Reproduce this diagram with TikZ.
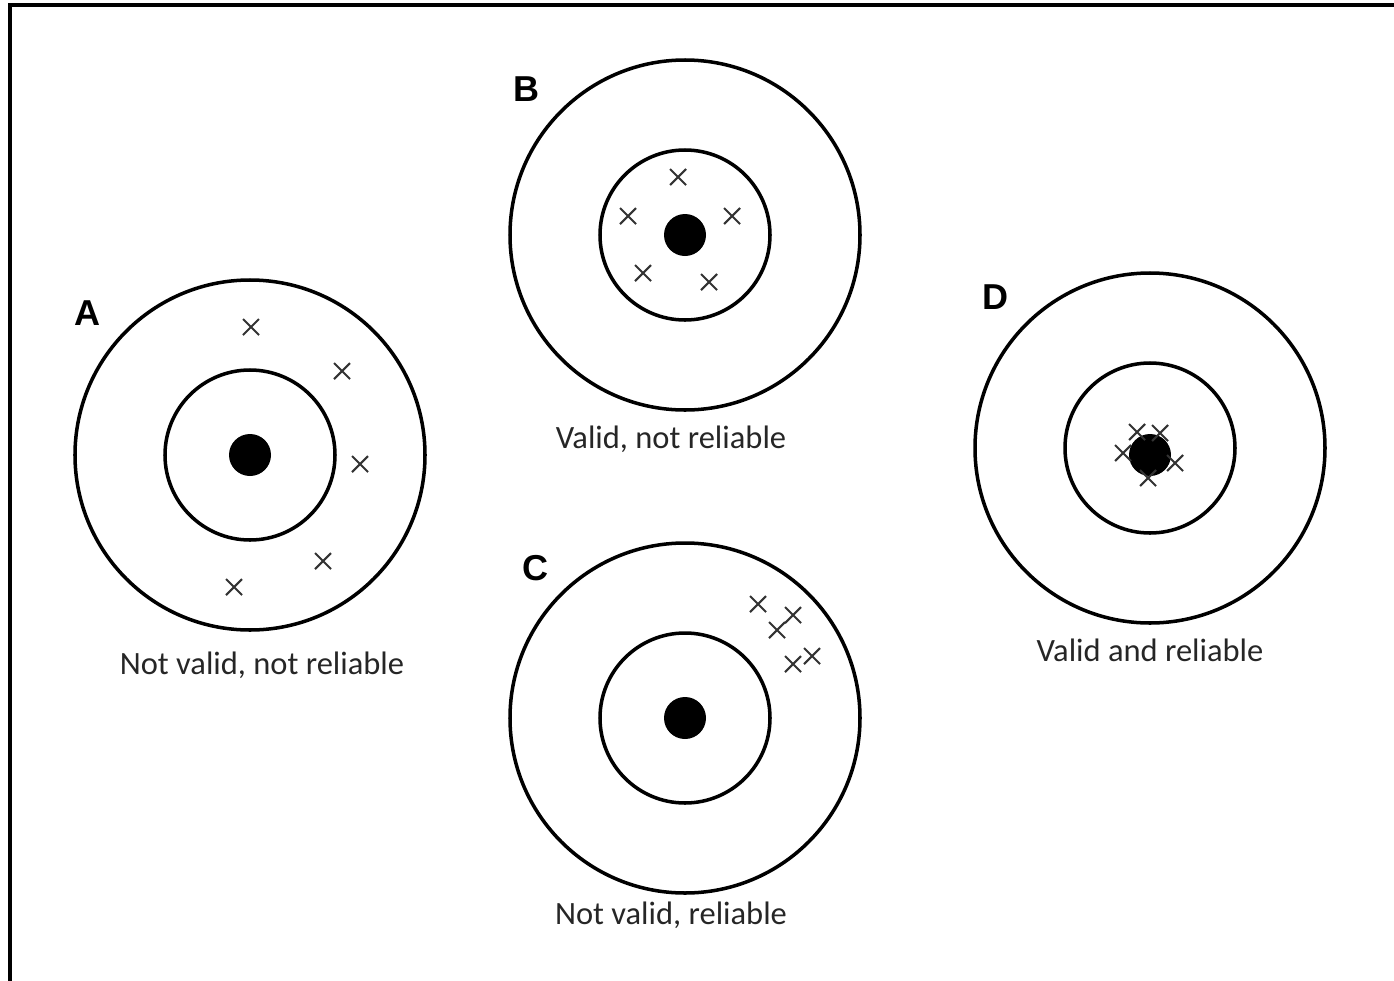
\documentclass[tikz,border=0pt]{standalone}
\usepackage{fontspec}
\setmainfont{Carlito}
\newfontfamily\tagfont{Liberation Sans}
\usepackage{tikz}
\definecolor{markcol}{rgb}{0.2, 0.2, 0.2}
\definecolor{textcol}{rgb}{0.15, 0.15, 0.15}
\tikzstyle{ring}=[line width=2pt, black]
\tikzstyle{hitline}=[line width=1.2pt, markcol]
\tikzstyle{tag}=[inner sep=0pt, font=\tagfont\bfseries\fontsize{20.5}{22}\selectfont]
\tikzstyle{caption}=[inner sep=0pt, textcol, font=\fontsize{18.5}{20}\selectfont]
\newcommand{\target}[3]{
  \draw[ring] (#1, #2) circle (175);
  \draw[ring] (#1, #2) circle (85);
  \fill (#1, #3) circle (21);
}
\newcommand{\hit}[2]{
  \draw[hitline] (#1, #2) +(-8, -8) -- +(8, 8) +(-8, 8) -- +(8, -8);
}

\begin{document}
\begin{tikzpicture}[x=0.02cm, y=-0.02cm]
\useasboundingbox (0, 0) rectangle (1394, 981);
\draw[line width=2.2pt] (10, 981) -- (10, 5) -- (1394, 5);
% A
\target{250}{455}{455}
\hit{251}{327};
\hit{342}{371};
\hit{360}{464};
\hit{323}{561};
\hit{234}{587};
\node[tag] (tagA) at (88, 313) {A};
\node[caption] (capA) at (262, 665) {Not valid, not reliable};
% B
\target{685}{235}{235}
\hit{678}{177};
\hit{628}{216};
\hit{732}{216};
\hit{643}{273};
\hit{709}{282};
\node[tag] (tagB) at (527, 89) {B};
\node[caption] (capB) at (671, 439) {Valid, not reliable};
% C
\target{685}{718}{718}
\hit{758}{604};
\hit{793}{615};
\hit{777}{630};
\hit{812}{656};
\hit{793}{664};
\node[tag] (tagC) at (536, 568) {C};
\node[caption] (capC) at (671, 915) {Not valid, reliable};
% D
\target{1150}{448}{455}
\hit{1137}{432};
\hit{1160}{433};
\hit{1123}{453};
\hit{1175}{463};
\hit{1148}{478};
\node[tag] (tagD) at (995, 297) {D};
\node[caption] (capD) at (1150, 650) {Valid and reliable};
\end{tikzpicture}
\end{document}
